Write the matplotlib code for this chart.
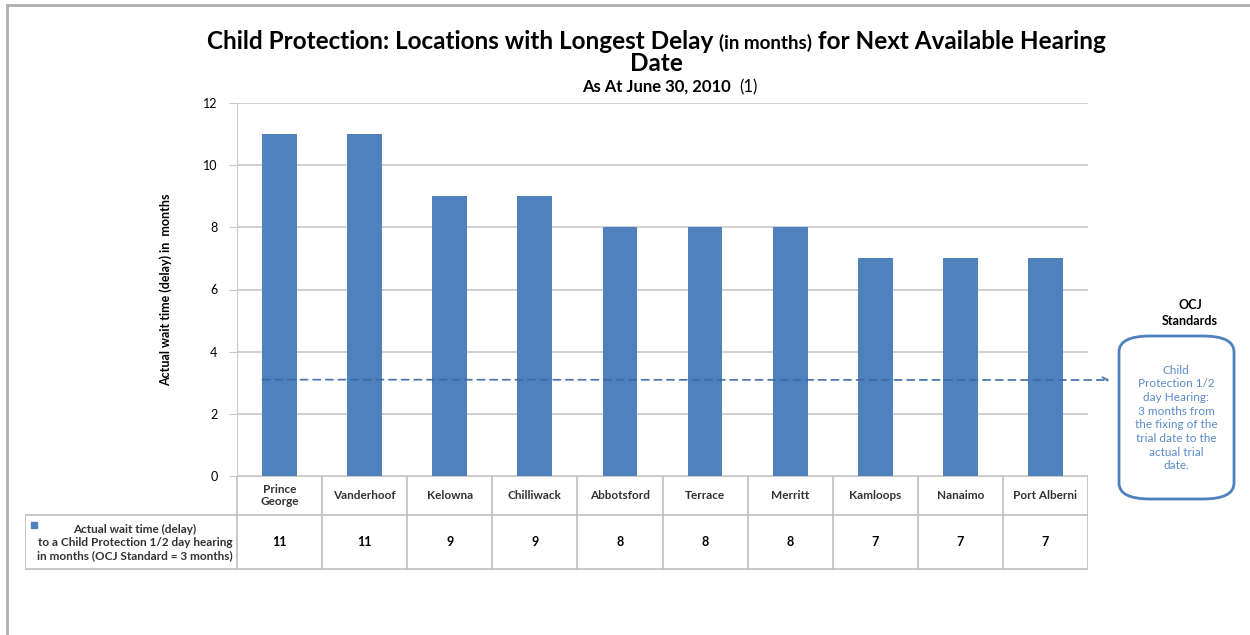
import matplotlib.pyplot as plt
from matplotlib.patches import FancyBboxPatch
from matplotlib.lines import Line2D

locations = ['Prince\nGeorge', 'Vanderhoof', 'Kelowna', 'Chilliwack', 'Abbotsford',
             'Terrace', 'Merritt', 'Kamloops', 'Nanaimo', 'Port Alberni']
wait_months = [11, 11, 9, 9, 8, 8, 8, 7, 7, 7]
ocj_standard = 3.1
y_ticks = [0, 2, 4, 6, 8, 10, 12]

bar_color = '#4F81BD'
grid_color = '#C8C8C8'
W, H = 1250, 635

plt.rcParams['font.family'] = ['Lato', 'DejaVu Sans']

fig = plt.figure(figsize=(12.5, 6.35), dpi=100)

# screenshot frame
fig.add_artist(Line2D([7 / W, 7 / W], [0, 1 - 5 / H], color='#B0B0B0', lw=2))
fig.add_artist(Line2D([7 / W, 1], [1 - 5 / H, 1 - 5 / H], color='#B0B0B0', lw=2))

ax_l, ax_r, ax_t, ax_b = 237, 1088, 103, 476
ax = fig.add_axes([ax_l / W, 1 - ax_b / H, (ax_r - ax_l) / W, (ax_b - ax_t) / H])
x = range(len(locations))
ax.bar(x, wait_months, width=0.41, color=bar_color, zorder=2)
ax.set_xlim(-0.5, len(locations) - 0.5)
ax.set_ylim(0, 12)
ax.set_yticks(y_ticks)
ax.set_xticks([])
ax.grid(axis='y', color=grid_color, lw=1.2, zorder=0)
for s in ['top', 'right', 'bottom']:
    ax.spines[s].set_visible(False)
ax.spines['left'].set_color(grid_color)
ax.tick_params(axis='y', length=6, color=grid_color, labelsize=9, pad=8)
ax.set_ylabel('Actual wait time (delay) in  months', fontsize=9, fontweight='bold', labelpad=22)

# dashed standard line with arrow
ax.annotate('', xy=(1110 / W, 1 - 380 / H), xycoords='figure fraction',
            xytext=(-0.2, ocj_standard), textcoords='data',
            arrowprops=dict(arrowstyle='->', color='#3D69A5', lw=1.3, ls=(0, (4, 3)),
                            shrinkA=0, shrinkB=0, alpha=0.9), zorder=3)

# pieces of text side by side, each with its own size / weight
renderer = fig.canvas.get_renderer()


def text_row(cx, y, parts):
    widths = []
    for s, fs, fw in parts:
        t = fig.text(0, 0, s, fontsize=fs, fontweight=fw)
        widths.append(t.get_window_extent(renderer).width)
        t.remove()
    x0 = cx - sum(widths) / 2
    for (s, fs, fw), w in zip(parts, widths):
        fig.text(x0 / W, 1 - y / H, s, ha='left', va='baseline', fontsize=fs, fontweight=fw)
        x0 += w


text_row(656, 49, [('Child Protection: Locations with Longest Delay ', 17.5, 'bold'),
                   ('(in months)', 13.5, 'bold'),
                   (' for Next Available Hearing', 17.5, 'bold')])
text_row(656, 71, [('Date', 17.5, 'bold')])
text_row(670, 92, [('As At June 30, 2010  ', 12, 'bold'), ('(1)', 12, 'normal')])

# data table below the axes
tab_l, tab_t, tab_mid, tab_b = 25, 476, 515, 570
n = len(locations)
cell = (ax_r - ax_l) / n
tab = fig.add_axes([tab_l / W, 1 - tab_b / H, (ax_r - tab_l) / W, (tab_b - tab_t) / H])
left_cells = (ax_l - tab_l) / cell
tab.set_xlim(-0.5 - left_cells, n - 0.5)
tab.set_ylim(tab_b, tab_t)
tab.axis('off')
lc = '#BFBFBF'
tab.plot([-0.5, n - 0.5], [tab_t, tab_t], color=lc, lw=1.2)
tab.plot([-0.5 - left_cells, n - 0.5], [tab_mid, tab_mid], color=lc, lw=1.2)
tab.plot([-0.5 - left_cells, n - 0.5], [tab_b - 1, tab_b - 1], color=lc, lw=1.2)
tab.plot([-0.5 - left_cells] * 2, [tab_mid, tab_b], color=lc, lw=1.2)
for i in range(n + 1):
    tab.plot([i - 0.5, i - 0.5], [tab_t, tab_b], color=lc, lw=1.2)
for i, (name, v) in enumerate(zip(locations, wait_months)):
    tab.text(i, (tab_t + tab_mid) / 2, name, ha='center', va='center', fontsize=8.5,
             fontweight='bold', color='#333333', linespacing=1.2)
    tab.text(i, (tab_mid + tab_b) / 2, str(v), ha='center', va='center', fontsize=9,
             fontweight='bold')
tab.text(-0.55, (tab_mid + tab_b) / 2,
         'Actual wait time (delay)\nto a Child Protection 1/2 day hearing\nin months (OCJ Standard = 3 months)',
         ha='right', va='center', fontsize=8.5, fontweight='bold', color='#333333',
         linespacing=1.25, multialignment='center')
tab.plot([-0.5 - left_cells + 0.1], [525], marker='s', color=bar_color, ms=5)

# OCJ standards box
fig.text(1190 / W, 1 - 313 / H, 'OCJ\nStandards', ha='center', va='center', fontsize=9,
         fontweight='bold', linespacing=1.4)
box = FancyBboxPatch((1119 / W, 1 - 499 / H), 115 / W, 163 / H,
                     boxstyle='round,pad=0,rounding_size=0.025', transform=fig.transFigure,
                     facecolor='white', edgecolor=bar_color, lw=2)
fig.add_artist(box)
fig.text(1176 / W, 1 - 418 / H,
         'Child\nProtection 1/2\nday Hearing:\n3 months from\nthe fixing of the\ntrial date to the\nactual trial\ndate.',
         ha='center', va='center', fontsize=8.5, color='#5B8BC9', linespacing=1.3)

fig.savefig('out.png', dpi=100)
